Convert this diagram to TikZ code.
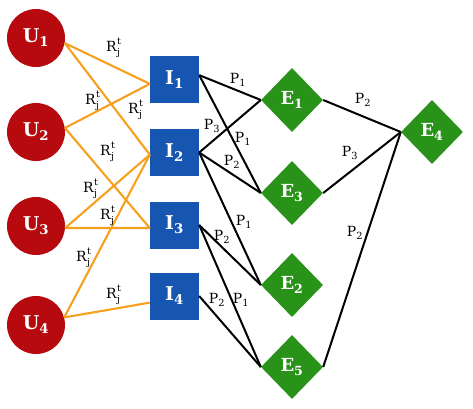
\documentclass[tikz,border=0pt]{standalone}
\usepackage{fontspec}
\setmainfont{DejaVu Serif}
\usetikzlibrary{shapes.geometric}
\definecolor{ured}{RGB}{182,10,15}
\definecolor{iblue}{RGB}{22,86,176}
\definecolor{egreen}{RGB}{40,146,25}
\definecolor{eorange}{RGB}{247,160,30}
\newcommand\Rjt{R\kern0.5pt\rlap{\raisebox{1.0ex}{\fontsize{9.5}{10}\selectfont t}}\raisebox{-0.55ex}{\fontsize{9.5}{10}\selectfont j}}
\newcommand\Pp[1]{P\textsubscript{#1}}
\tikzset{
  unode/.style={circle,fill=ured,minimum size=58pt,inner sep=0pt,text=white,font=\fontsize{19}{21}\selectfont\bfseries},
  inode/.style={rectangle,fill=iblue,minimum width=49pt,minimum height=47pt,inner sep=0pt,text=white,font=\fontsize{19}{21}\selectfont\bfseries},
  enode/.style={diamond,fill=egreen,minimum width=62pt,minimum height=64pt,inner sep=0pt,text=white,font=\fontsize{18}{20}\selectfont\bfseries},
  oedge/.style={draw=eorange,line width=2.1pt},
  bedge/.style={draw=black,line width=2pt},
  lbl/.style={inner sep=0pt,font=\fontsize{14}{16}\selectfont}
}
\begin{document}
\begin{tikzpicture}[x=1pt,y=-1pt]
\useasboundingbox (0,0) rectangle (473,408);
\node[unode] (U1) at (36,38) {U\textsubscript{1}};
\node[unode] (U2) at (36,132) {U\textsubscript{2}};
\node[unode] (U3) at (36,226) {U\textsubscript{3}};
\node[unode] (U4) at (36,325) {U\textsubscript{4}};
\node[inode] (I1) at (174.5,79.5) {I\textsubscript{1}};
\node[inode] (I2) at (174.5,152.5) {I\textsubscript{2}};
\node[inode] (I3) at (174.5,225) {I\textsubscript{3}};
\node[inode] (I4) at (174.5,296) {I\textsubscript{4}};
\node[enode] (E1) at (292,100) {E\textsubscript{1}};
\node[enode] (E3) at (292,193) {E\textsubscript{3}};
\node[enode] (E2) at (292,285) {E\textsubscript{2}};
\node[enode] (E5) at (292,367) {E\textsubscript{5}};
\node[enode] (E4) at (432,132) {E\textsubscript{4}};
% orange connectors
\draw[oedge] (U1.-10) -- (I1.190);
\draw[oedge] (U1.-10) -- (I2.185);
\draw[oedge] (U2.8) -- (I1.190);
\draw[oedge] (U2.8) -- (I3.187);
\draw[oedge] (U3.-4) -- (I2.185);
\draw[oedge] (U3.-4) -- (I3.187);
\draw[oedge] (U4.15) -- (I2.185);
\draw[oedge] (U4.15) -- (I4.195);
% black connectors
\draw[bedge] (I1.10) -- (E1.west);
\draw[bedge] (I1.10) -- (E3.west);
\draw[bedge] (I2.east) -- (E1.west);
\draw[bedge] (I2.east) -- (E3.west);
\draw[bedge] (I2.east) -- (E2.west);
\draw[bedge] (I3.east) -- (E2.west);
\draw[bedge] (I3.east) -- (E5.west);
\draw[bedge] (I4.east) -- (E5.west);
\draw[bedge] (E1.east) -- (E4.west);
\draw[bedge] (E3.east) -- (E4.west);
\draw[bedge] (E5.east) -- (E4.west);
% labels
\node[lbl] (r1) at (113,48) {\Rjt};
\node[lbl] (r2) at (92,101) {\Rjt};
\node[lbl] (r3) at (135,110) {\Rjt};
\node[lbl] (r4) at (107,152) {\Rjt};
\node[lbl] (r5) at (90,189) {\Rjt};
\node[lbl] (r6) at (107,216) {\Rjt};
\node[lbl] (r7) at (83,258) {\Rjt};
\node[lbl] (r8) at (113,295) {\Rjt};
\node[lbl] (p1) at (238,80) {\Pp{1}};
\node[lbl] (p2) at (243,139) {\Pp{1}};
\node[lbl] (p3) at (212,126) {\Pp{3}};
\node[lbl] (p4) at (232,162) {\Pp{2}};
\node[lbl] (p5) at (244,222) {\Pp{1}};
\node[lbl] (p6) at (222,237) {\Pp{2}};
\node[lbl] (p7) at (241,300) {\Pp{1}};
\node[lbl] (p8) at (217,300) {\Pp{2}};
\node[lbl] (p9) at (363,100) {\Pp{2}};
\node[lbl] (p10) at (350,153) {\Pp{3}};
\node[lbl] (p11) at (355,233) {\Pp{2}};
\end{tikzpicture}
\end{document}
